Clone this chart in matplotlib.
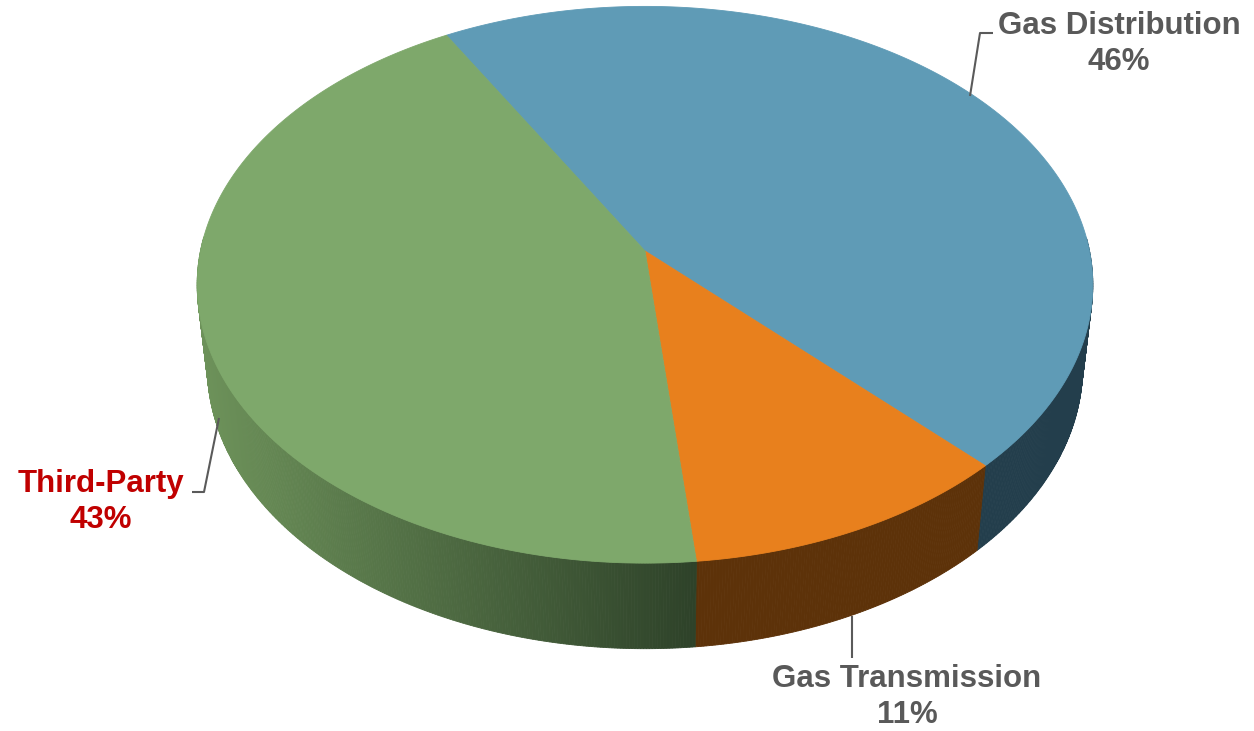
import numpy as np
import matplotlib
matplotlib.use("Agg")
import matplotlib.pyplot as plt
from matplotlib.patches import Polygon
from matplotlib.colors import to_rgb

# ---- data ----
labels = ["Gas Distribution", "Gas Transmission", "Third-Party"]
values = [45.9, 10.7, 43.4]
top_colors = ["#5f9bb6", "#e8801d", "#7ea86b"]
side_colors = ["#233e4c", "#5d3209", "gradient"]
label_colors = ["#595959", "#595959", "#c00000"]
start_angle = -29.6  # degrees, clockwise from 12 o'clock

# ---- camera / projection ----
elev = np.arcsin(0.617)
c, s = np.cos(elev), np.sin(elev)
D, F, H = 6.49, 2885.0, 0.241
CX, CY = 645.0, 251.0


def proj(X, Y, Z):
    depth = D + Y * c - Z * s
    sx = F * X / depth
    sy = F * (Y * s + Z * c) / depth
    return CX + sx, CY - sy


def cw_to_math(a_cw):
    return np.deg2rad(90.0 - a_cw)


fig = plt.figure(figsize=(12.54, 7.31), dpi=100)
ax = fig.add_axes([0, 0, 1, 1])
ax.set_xlim(0, 1254)
ax.set_ylim(731, 0)
ax.axis("off")

total = float(sum(values))
bounds = [start_angle]
for v in values:
    bounds.append(bounds[-1] + 360.0 * v / total)

green_light = np.array(to_rgb("#6d925a"))
green_dark = np.array(to_rgb("#2e4229"))

# ---- side wall ----
quads = []
for i in range(len(values)):
    a0, a1 = bounds[i], bounds[i + 1]
    n = max(int((a1 - a0) * 3), 4)
    angs = np.linspace(a0, a1, n + 1)
    for k in range(n):
        t0, t1 = cw_to_math(angs[k]), cw_to_math(angs[k + 1])
        tm = 0.5 * (t0 + t1)
        if np.sin(tm) > 0.05:
            continue
        p = [proj(np.cos(t0), np.sin(t0), 0), proj(np.cos(t1), np.sin(t1), 0),
             proj(np.cos(t1), np.sin(t1), -H), proj(np.cos(t0), np.sin(t0), -H)]
        depth = D + np.sin(tm) * c
        if side_colors[i] == "gradient":
            xm = 0.5 * (p[0][0] + p[1][0])
            f = np.clip((xm - 200) / (695 - 200), 0, 1)
            col = green_light * (1 - f) + green_dark * f
        else:
            col = side_colors[i]
        quads.append((depth, p, col))
quads.sort(key=lambda q: -q[0])
for _, p, col in quads:
    ax.add_patch(Polygon(p, closed=True, facecolor=col, edgecolor=col, lw=0.6))

# ---- top face ----
for i in range(len(values)):
    a0, a1 = bounds[i], bounds[i + 1]
    angs = np.linspace(a0, a1, 300)
    pts = [proj(0, 0, 0)]
    for a in angs:
        t = cw_to_math(a)
        pts.append(proj(np.cos(t), np.sin(t), 0))
    ax.add_patch(Polygon(pts, closed=True, facecolor=top_colors[i],
                         edgecolor=top_colors[i], lw=0.6))

# ---- labels & leader lines ----
font = dict(family="Liberation Sans", fontweight="bold", fontsize=22.5,
            ha="center", va="center")
label_pos = [(1119, 26, 62), (907, 679, 715), (101, 484, 520)]
leaders = [
    ([970, 980, 993], [96, 33, 33]),
    ([852, 852], [616, 658]),
    ([219, 204, 192], [418, 492, 492]),
]
for i in range(len(values)):
    x, y1, y2 = label_pos[i]
    ax.text(x, y1, labels[i], color=label_colors[i], **font)
    ax.text(x, y2, f"{round(values[i])}%", color=label_colors[i], **font)
    lx, ly = leaders[i]
    ax.plot(lx, ly, color="#5a5a5a", lw=1.5, solid_capstyle="butt")

fig.savefig("out.png", dpi=100)
